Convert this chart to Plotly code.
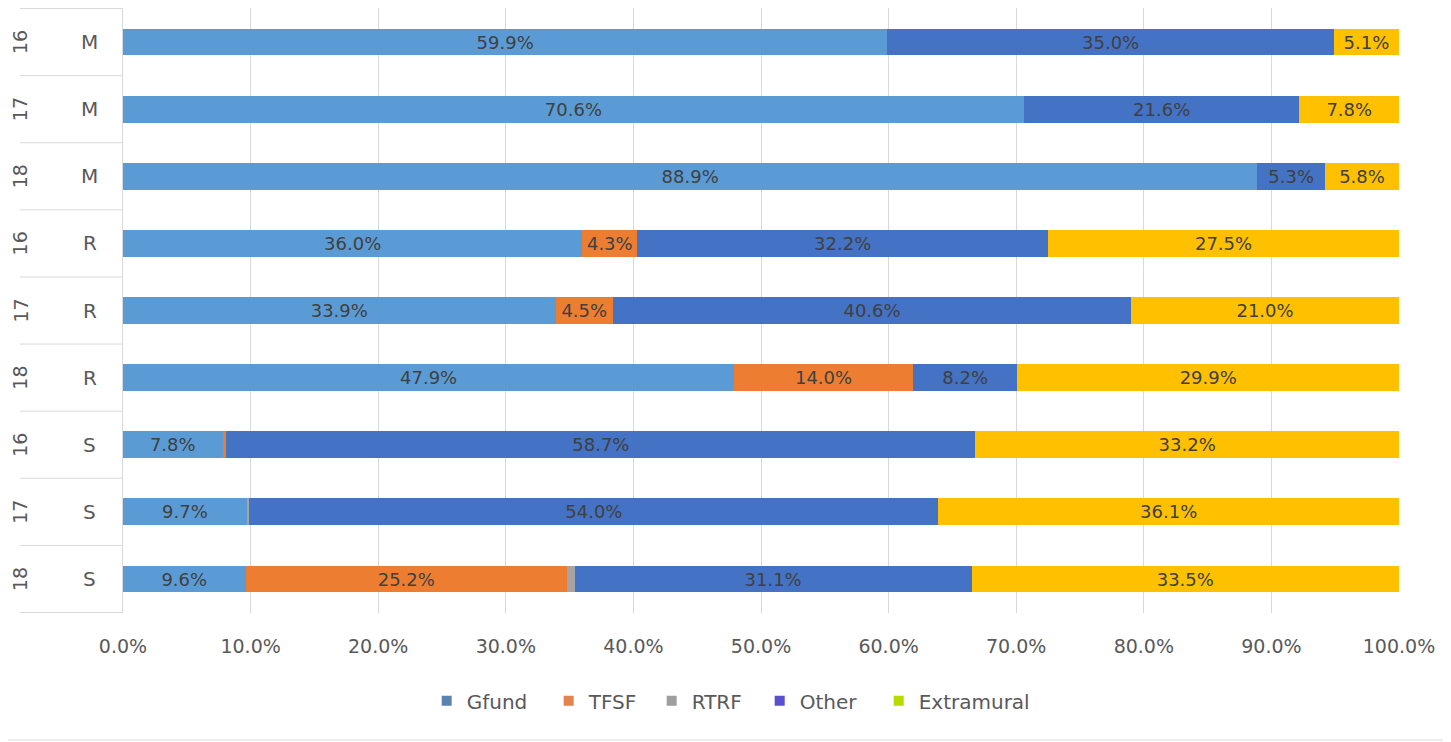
import plotly.graph_objects as go

years = ["16", "17", "18", "16", "17", "18", "16", "17", "18"]
groups = ["M", "M", "M", "R", "R", "R", "S", "S", "S"]
categories = [f"{y} {g}" for y, g in zip(years, groups)]

gfund = [59.9, 70.6, 88.9, 36.0, 33.9, 47.9, 7.8, 9.7, 9.6]
tfsf = [0.0, 0.0, 0.0, 4.3, 4.5, 14.0, 0.3, 0.0, 25.2]
rtrf = [0.0, 0.0, 0.0, 0.0, 0.0, 0.0, 0.0, 0.2, 0.6]
other = [35.0, 21.6, 5.3, 32.2, 40.6, 8.2, 58.7, 54.0, 31.1]
extramural = [5.1, 7.8, 5.8, 27.5, 21.0, 29.9, 33.2, 36.1, 33.5]

series_names = ["Gfund", "TFSF", "RTRF", "Other", "Extramural"]
series_values = [gfund, tfsf, rtrf, other, extramural]
bar_colors = ["#5B9BD5", "#ED7D31", "#A5A5A5", "#4472C4", "#FFC000"]
legend_colors = ["#5A84AE", "#E3834F", "#9E9E9E", "#5A4FD0", "#B8DA00"]
legend_widths = [77, 58, 63, 74, 120]
x_ticks = [0, 10, 20, 30, 40, 50, 60, 70, 80, 90, 100]

FONT = "DejaVu Sans"
TXT = "#595959"
GRID = "#D9D9D9"

fig = go.Figure()
for name, vals, col in zip(series_names, series_values, bar_colors):
    fig.add_trace(go.Bar(
        y=categories, x=vals, orientation="h", name=name,
        marker=dict(color=col, line=dict(width=0)),
        width=0.4,
        text=[f"{v:.1f}%" if v >= 1 else "" for v in vals],
        textposition="inside", insidetextanchor="middle",
        textfont=dict(family=FONT, size=19, color="#404040"),
        showlegend=False, hoverinfo="x+y+name",
    ))

for name, col, lw in zip(series_names, legend_colors, legend_widths):
    fig.add_trace(go.Scatter(
        x=[None], y=[None], mode="markers", name=name,
        marker=dict(symbol="square", size=10, color=col),
        legendwidth=lw,
    ))

annotations = []
shapes = []
for i, (y, g) in enumerate(zip(years, groups)):
    annotations.append(dict(x=-0.0807, xref="paper", y=categories[i], yref="y",
                            text=y, textangle=-90, showarrow=False,
                            font=dict(family=FONT, size=19, color=TXT),
                            xanchor="center", yanchor="middle"))
    annotations.append(dict(x=-0.0259, xref="paper", y=categories[i], yref="y",
                            text=g, showarrow=False,
                            font=dict(family=FONT, size=20, color=TXT),
                            xanchor="center", yanchor="middle"))
for i in range(len(categories) + 1):
    shapes.append(dict(type="line", xref="paper", yref="y",
                       x0=-0.0807, x1=0, y0=i - 0.5, y1=i - 0.5,
                       line=dict(color=GRID, width=1)))
# chart frame (left and bottom edges)
shapes.append(dict(type="line", xref="paper", yref="paper", x0=-0.0925, x1=-0.0925,
                   y0=-0.21, y1=1.05, line=dict(color=GRID, width=1.5)))
shapes.append(dict(type="line", xref="paper", yref="paper", x0=-0.0925, x1=1.037,
                   y0=-0.21, y1=-0.21, line=dict(color=GRID, width=1)))

fig.update_layout(
    barmode="stack",
    width=1443, height=734,
    margin=dict(l=115, r=52, t=0, b=129),
    paper_bgcolor="white", plot_bgcolor="white",
    font=dict(family=FONT, size=19, color=TXT),
    xaxis=dict(range=[0, 100], tickvals=x_ticks,
               ticktext=[f"{v:.1f}%" for v in x_ticks],
               showgrid=True, gridcolor=GRID, gridwidth=1,
               zeroline=False, showline=False, ticks="",
               tickfont=dict(family=FONT, size=19, color=TXT),
               ticklabelstandoff=20, fixedrange=True),
    yaxis=dict(categoryorder="array", categoryarray=categories,
               autorange="reversed", showticklabels=False,
               showgrid=False, zeroline=False,
               showline=True, linecolor=GRID, linewidth=1, ticks=""),
    legend=dict(orientation="h", x=0.238, xanchor="left", y=-0.145, yanchor="middle",
                font=dict(family=FONT, size=20, color=TXT),
                traceorder="normal", itemwidth=30),
    uniformtext=dict(minsize=10, mode="hide"),
    annotations=annotations,
    shapes=shapes,
)

fig.write_html("out.html")
